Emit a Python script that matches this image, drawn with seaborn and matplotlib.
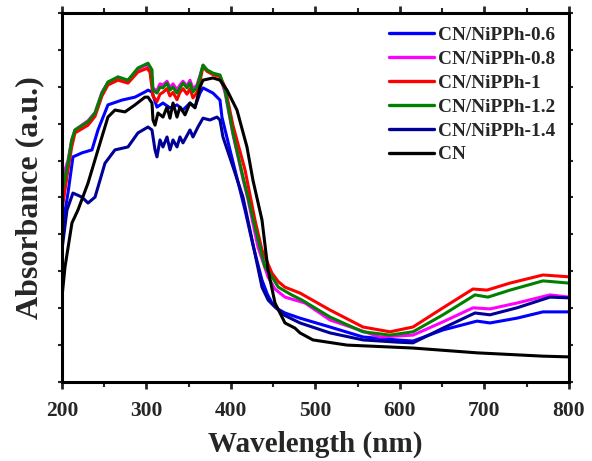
import matplotlib
matplotlib.use("Agg")
import matplotlib.pyplot as plt
import seaborn as sns
import numpy as np
import pandas as pd

# ---------------- data (wavelength in nm, absorbance in a.u.) ----------------
wl_06 = [200, 207.1, 213.0, 223.7, 235.5, 242.6, 254.4, 271.0, 286.4, 298.2, 301.8, 306.5,
         312.4, 319.5, 327.8, 336.1, 343.2, 351.5, 357.4, 363.3, 366.9, 378.7, 387.0, 389.3,
         398.8, 407.1, 416.6, 426.0, 436.7, 443.0, 448.5, 456.0, 463.9, 481.7, 517.2, 556.2,
         596.5, 615.4, 650.9, 691.1, 706.5, 738.5, 769.2, 800]
ab_06 = [4.12, 5.12, 6.10, 6.21, 6.29, 6.83, 7.51, 7.64, 7.72, 7.86, 7.91, 7.86,
         7.45, 7.56, 7.43, 7.51, 7.37, 7.56, 7.45, 7.83, 7.97, 7.83, 7.64, 7.18,
         6.29, 5.53, 4.66, 3.71, 2.76, 2.38, 2.14, 1.97, 1.87, 1.73, 1.49, 1.22,
         1.14, 1.11, 1.41, 1.65, 1.60, 1.73, 1.90, 1.90]

wl_08 = [200, 207.1, 211.5, 215.4, 230.8, 239.1, 247.3, 254.4, 266.3, 278.1, 289.9, 300.6,
         304.1, 307.7, 312.4, 316.0, 319.5, 324.3, 327.8, 331.4, 336.1, 339.6, 343.2, 347.9,
         351.5, 355.0, 359.8, 363.3, 366.9, 371.6, 378.7, 387.0, 392.9, 402.4, 414.2, 420.1,
         431.9, 443.8, 452.0, 463.9, 487.6, 517.2, 576.3, 615.4, 650.9, 686.4, 706.5, 738.5,
         777.5, 800]
ab_08 = [5.50, 6.00, 6.55, 6.83, 7.08, 7.30, 7.85, 8.12, 8.25, 8.17, 8.48, 8.60,
         8.45, 7.95, 7.90, 8.08, 8.05, 8.15, 7.98, 8.08, 7.92, 8.05, 8.15, 8.02,
         8.18, 7.95, 8.05, 8.30, 8.58, 8.45, 8.35, 8.28, 7.85, 6.70, 5.50, 4.95,
         3.66, 2.85, 2.52, 2.30, 2.14, 1.68, 1.22, 1.27, 1.63, 2.01, 1.98, 2.14,
         2.36, 2.30]

wl_1 = [200, 207.1, 211.5, 215.4, 230.8, 239.1, 247.3, 254.4, 266.3, 278.1, 289.9, 300.6,
        304.1, 307.7, 312.4, 316.0, 319.5, 324.3, 327.8, 331.4, 336.1, 339.6, 343.2, 347.9,
        351.5, 355.0, 359.8, 363.3, 366.9, 371.6, 378.7, 387.0, 392.9, 402.4, 416.6, 428.4,
        436.7, 448.5, 456.0, 463.9, 481.7, 517.2, 556.2, 588.2, 615.4, 650.9, 686.4, 703.0,
        730.2, 769.2, 800]
ab_1 = [4.66, 5.75, 6.37, 6.75, 6.96, 7.20, 7.75, 8.05, 8.18, 8.10, 8.40, 8.50,
        8.40, 7.75, 7.60, 7.80, 7.85, 7.95, 7.75, 7.85, 7.65, 7.85, 7.95, 7.80,
        7.95, 7.70, 7.85, 8.15, 8.55, 8.42, 8.33, 8.28, 8.00, 6.95, 5.75, 4.39,
        3.58, 2.95, 2.72, 2.57, 2.41, 1.95, 1.49, 1.36, 1.49, 2.01, 2.52, 2.49,
        2.68, 2.90, 2.85]

wl_12 = [200, 207.1, 211.5, 215.4, 230.8, 239.1, 247.3, 254.4, 266.3, 278.1, 289.9, 301.8,
         306.5, 307.7, 312.4, 316.0, 319.5, 324.3, 327.8, 331.4, 336.1, 339.6, 343.2, 347.9,
         351.5, 355.0, 359.8, 363.3, 366.9, 371.6, 378.7, 387.0, 392.9, 402.4, 414.2, 420.1,
         428.4, 440.2, 448.5, 456.0, 471.8, 484.0, 517.2, 556.2, 588.2, 615.4, 650.9, 688.8,
         704.1, 730.2, 769.2, 800]
ab_12 = [5.12, 5.93, 6.56, 6.83, 7.05, 7.29, 7.83, 8.13, 8.27, 8.18, 8.51, 8.64,
         8.46, 7.91, 7.83, 7.99, 7.97, 8.10, 7.91, 7.99, 7.83, 7.97, 8.10, 7.97,
         8.10, 7.86, 7.99, 8.27, 8.59, 8.46, 8.37, 8.32, 7.91, 6.75, 5.56, 5.01,
         4.20, 3.12, 2.85, 2.57, 2.36, 2.22, 1.76, 1.36, 1.27, 1.36, 1.82, 2.36,
         2.30, 2.49, 2.74, 2.68]

wl_14 = [200, 205.9, 213.0, 223.7, 230.8, 239.1, 250.9, 262.7, 278.1, 289.9, 301.8, 306.5,
         310.1, 312.4, 316.0, 319.5, 324.3, 327.8, 331.4, 336.1, 339.6, 343.2, 351.5, 355.0,
         360.9, 366.9, 375.1, 383.4, 387.0, 390.5, 402.4, 414.2, 426.0, 436.7, 444.0, 452.1,
         463.9, 481.7, 517.2, 556.2, 596.5, 615.4, 650.9, 688.8, 706.5, 738.5, 777.5, 800]
ab_14 = [3.58, 4.66, 5.12, 5.01, 4.85, 5.01, 5.93, 6.29, 6.37, 6.75, 6.91, 6.83,
         6.29, 6.10, 6.56, 6.37, 6.64, 6.29, 6.56, 6.37, 6.64, 6.48, 6.83, 6.64,
         6.91, 7.15, 7.10, 7.18, 7.10, 6.64, 5.83, 5.01, 3.74, 2.57, 2.22, 2.03,
         1.80, 1.60, 1.33, 1.14, 1.08, 1.06, 1.46, 1.87, 1.82, 2.01, 2.30, 2.28]

wl_cn = [200, 203.6, 211.8, 218.9, 230.8, 242.6, 254.4, 262.7, 274.6, 286.4, 298.2, 301.8,
         306.5, 307.7, 310.1, 313.6, 319.5, 324.3, 327.8, 331.4, 336.1, 339.6, 345.6, 351.5,
         357.4, 363.3, 366.9, 378.7, 387.0, 395.3, 407.1, 418.9, 426.0, 436.7, 443.8, 452.1,
         463.9, 475.7, 481.7, 497.0, 537.3, 615.4, 691.1, 769.2, 800]
ab_cn = [2.30, 3.12, 4.31, 4.66, 5.39, 6.29, 7.18, 7.37, 7.32, 7.51, 7.72, 7.72,
         7.56, 7.10, 6.96, 7.29, 7.18, 7.45, 7.15, 7.56, 7.18, 7.45, 7.24, 7.56,
         7.43, 7.99, 8.18, 8.24, 8.18, 7.91, 7.37, 6.37, 5.47, 4.39, 3.04, 2.14,
         1.60, 1.46, 1.33, 1.14, 1.00, 0.92, 0.79, 0.70, 0.68]

labels = ["CN/NiPPh-0.6", "CN/NiPPh-0.8", "CN/NiPPh-1", "CN/NiPPh-1.2", "CN/NiPPh-1.4", "CN"]
colors = ["#0000FF", "#FF00FF", "#FF0000", "#008000", "#000099", "#000000"]
x_ticks = [200, 300, 400, 500, 600, 700, 800]

series = [(wl_06, ab_06), (wl_08, ab_08), (wl_1, ab_1), (wl_12, ab_12), (wl_14, ab_14), (wl_cn, ab_cn)]

# ---------------- plot ----------------
sns.set_theme(style="ticks")
plt.rcParams["font.family"] = ["Liberation Serif", "DejaVu Serif"]
plt.rcParams["font.weight"] = "bold"

fig = plt.figure(figsize=(5.92, 4.61), dpi=100)
ax = fig.add_axes([0.1047, 0.1714, 0.8564, 0.8004])

for (wl, ab), lab, col in zip(series, labels, colors):
    df = pd.DataFrame({"Wavelength": wl, "Absorbance": ab})
    sns.lineplot(data=df, x="Wavelength", y="Absorbance", ax=ax, color=col,
                 label=lab, linewidth=2.2, sort=False, estimator=None)

ax.set_xlim(200, 800)
ax.set_ylim(0, 10)
ax.set_xticks(x_ticks)
ax.set_xticks(np.arange(250, 800, 100), minor=True)
ax.set_yticks(np.arange(0, 11, 1))
ax.set_yticklabels([])
ax.set_xticklabels([str(t) for t in x_ticks], fontsize=15.5, fontweight="bold")

ax.tick_params(axis="x", which="major", direction="out", length=5, width=2, pad=9)
ax.tick_params(axis="x", which="minor", direction="out", length=3.5, width=1.5)
ax.tick_params(axis="y", which="major", direction="out", length=3, width=1.5,
               left=True, right=True)
ax.tick_params(axis="x", which="both", top=True)

for s in ax.spines.values():
    s.set_linewidth(2.2)
    s.set_color("black")
    s.set_visible(True)

ax.set_xlabel("Wavelength (nm)", fontsize=21, fontweight="bold", labelpad=7)
ax.set_ylabel("Absorbance (a.u.)", fontsize=23, fontweight="bold", labelpad=6)

leg = ax.legend(loc="upper right", frameon=False, fontsize=13.9, handlelength=2.33,
                handletextpad=0.2, labelspacing=0.33, borderaxespad=0.3,
                bbox_to_anchor=(1.0, 1.0))
for t in leg.get_texts():
    t.set_fontweight("bold")
for h in leg.get_lines():
    h.set_linewidth(2.4)

fig.savefig("out.png", dpi=100)
